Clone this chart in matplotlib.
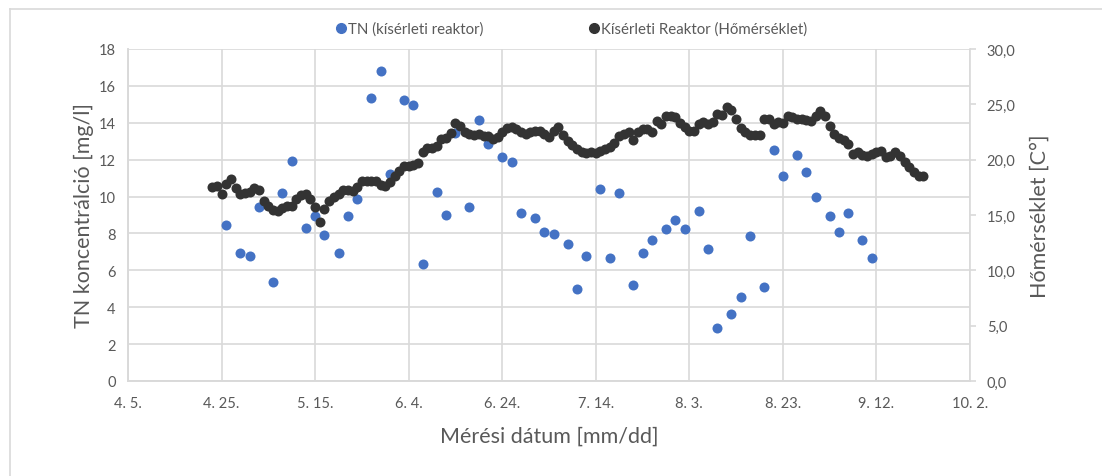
import numpy as np
import pandas as pd
import matplotlib
matplotlib.use('Agg')
import matplotlib.pyplot as plt
from matplotlib.lines import Line2D

plt.rcParams['font.family'] = ['Lato', 'DejaVu Sans']

# TN (kísérleti reaktor): napok 04.05-tol szamolva, mg/l
tn_nap = [21, 24, 26, 28, 31, 33, 35, 38, 40, 42, 45, 47, 49, 52, 54, 56, 59, 61,
          63, 66, 68, 70, 73, 75, 77, 80, 82, 84, 87, 89, 91, 94, 96, 98, 101, 103,
          105, 108, 110, 112, 115, 117, 119, 122, 124, 126, 129, 131, 133, 136,
          138, 140, 143, 145, 147, 150, 152, 154, 157, 159]
tn_ertek = [8.46, 6.94, 6.78, 9.44, 5.37, 10.2, 11.93, 8.3, 8.95, 7.92, 6.94, 8.95,
            9.87, 15.35, 16.81, 11.23, 15.24, 14.97, 6.34, 10.25, 9.0, 13.45, 9.44,
            14.15, 12.85, 12.15, 11.88, 9.11, 8.84, 8.08, 7.97, 7.43, 4.99, 6.78,
            10.41, 6.67, 10.2, 5.2, 6.94, 7.65, 8.24, 8.73, 8.24, 9.22, 7.16, 2.87,
            3.63, 4.56, 7.86, 5.1, 12.53, 11.12, 12.26, 11.33, 9.98, 8.95, 8.08,
            9.11, 7.65, 6.67]

# Hőmérséklet, napi ertekek a 18. naptol a 170. napig
homerseklet = [17.53, 17.62, 16.9, 17.8, 18.25, 17.44, 16.9, 16.99, 17.08, 17.44,
               17.26, 16.27, 15.81, 15.45, 15.36, 15.63, 15.81, 15.81, 16.45, 16.81,
               16.9, 16.45, 15.72, 14.37, 15.54, 16.27, 16.63, 16.9, 17.26, 17.26,
               17.17, 17.53, 18.07, 18.07, 18.07, 18.07, 17.71, 17.62, 17.98, 18.52,
               18.98, 19.43, 19.43, 19.52, 19.7, 20.69, 21.05, 21.05, 21.23, 21.87,
               21.96, 22.41, 23.31, 23.04, 22.5, 22.32, 22.23, 22.32, 22.14, 22.14,
               21.87, 22.05,
               22.5, 22.86, 22.95, 22.77, 22.5, 22.32, 22.5, 22.59, 22.59, 22.32,
               22.05, 22.59, 22.95, 22.23, 21.69, 21.32, 20.96, 20.69, 20.6, 20.69,
               20.6, 20.78, 20.96, 21.14, 21.5, 22.14, 22.32, 22.5, 21.78, 22.5,
               22.77, 22.77, 22.5, 23.49, 23.22, 23.95, 23.95, 23.86, 23.31, 22.95,
               22.59, 22.59, 23.22, 23.4, 23.22, 23.4, 24.13, 24.04, 24.76, 24.49,
               23.67, 22.86, 22.5, 22.23, 22.23, 22.23, 23.67, 23.67, 23.22, 23.4,
               23.31, 23.95, 23.86, 23.67, 23.67, 23.58, 23.49, 23.95, 24.4, 23.95,
               23.04, 22.32, 21.96, 21.78, 21.42, 20.51, 20.69, 20.42, 20.33, 20.51,
               20.69, 20.78, 20.24, 20.33, 20.69, 20.33, 19.79, 19.34, 18.89, 18.52,
               18.52]

kezdet = pd.Timestamp('2020-04-05')
tn_datum = kezdet + pd.to_timedelta(tn_nap, unit='D')
h_datum = pd.date_range(kezdet + pd.Timedelta(days=18), periods=len(homerseklet), freq='D')

kek = '#4472C4'
fekete = '#333333'
szurke = '#595959'
racs = '#d9d9d9'

fig = plt.figure(figsize=(11.02, 4.77), dpi=100)
ax = fig.add_axes([128/1102, 1-382/477, (970-128)/1102, (382-50)/477])
ax2 = ax.twinx()

ax.scatter(tn_datum, tn_ertek, s=52, color=kek, zorder=3, linewidths=0)
ax2.scatter(h_datum, homerseklet, s=52, color=fekete, zorder=3, linewidths=0)

ax.set_ylim(0, 18)
ax.set_yticks(np.arange(0, 19, 2))
ax2.set_ylim(0, 30)
ax2.set_yticks(np.arange(0, 31, 5))
ax2.set_yticklabels([f'{v:.1f}'.replace('.', ',') for v in np.arange(0, 31, 5)])

tickek = pd.date_range(kezdet, periods=10, freq='20D')
ax.set_xlim(tickek[0], tickek[-1])
ax.set_xticks(tickek)
ax.set_xticklabels([f'{d.month}. {d.day}.' for d in tickek])

ax.grid(True, color=racs, linewidth=1.2)
ax.set_axisbelow(True)
for a in (ax, ax2):
    a.spines['top'].set_visible(False)
    for s in ('left', 'bottom', 'right'):
        a.spines[s].set_color(racs)
        a.spines[s].set_linewidth(1.2)
ax.spines['right'].set_visible(False)

ax.tick_params(axis='both', length=0, colors=szurke, labelsize=10.5, pad=9)
ax.tick_params(axis='x', pad=11)
ax2.tick_params(axis='y', length=4, width=1.2, colors=szurke, labelsize=10.5, pad=8)
ax2.tick_params(axis='y', color=racs)

ax.set_ylabel('TN koncentrálció [mg/l]', fontsize=15.5, color=szurke, labelpad=3)
ax2.set_ylabel('Hőmérséklet [C°]', fontsize=15.5, color=szurke, labelpad=10)
ax.set_xlabel('Mérési dátum [mm/dd]', fontsize=15.5, color=szurke, labelpad=11)

# jelmagyarazat, ket kulon bejegyzes
for szin, szoveg, xpoz in [(kek, 'TN (kísérleti reaktor)', 330),
                           (fekete, 'Kísérleti Reaktor (Hőmérséklet)', 583)]:
    fig.legend([Line2D([], [], marker='o', linestyle='', color=szin, markersize=7)], [szoveg],
               loc='center left', bbox_to_anchor=(xpoz/1102, 1-30/477), frameon=False,
               fontsize=10.8, labelcolor=szurke, handlelength=0.7, handletextpad=0.1,
               borderaxespad=0)

# a diagram keretenek latszo resze
fig.add_artist(Line2D([10/1102, 10/1102], [0, 1-10/477], color=racs, linewidth=1.2))
fig.add_artist(Line2D([10/1102, 1], [1-10/477, 1-10/477], color=racs, linewidth=1.2))

fig.savefig('out.png', dpi=100)
